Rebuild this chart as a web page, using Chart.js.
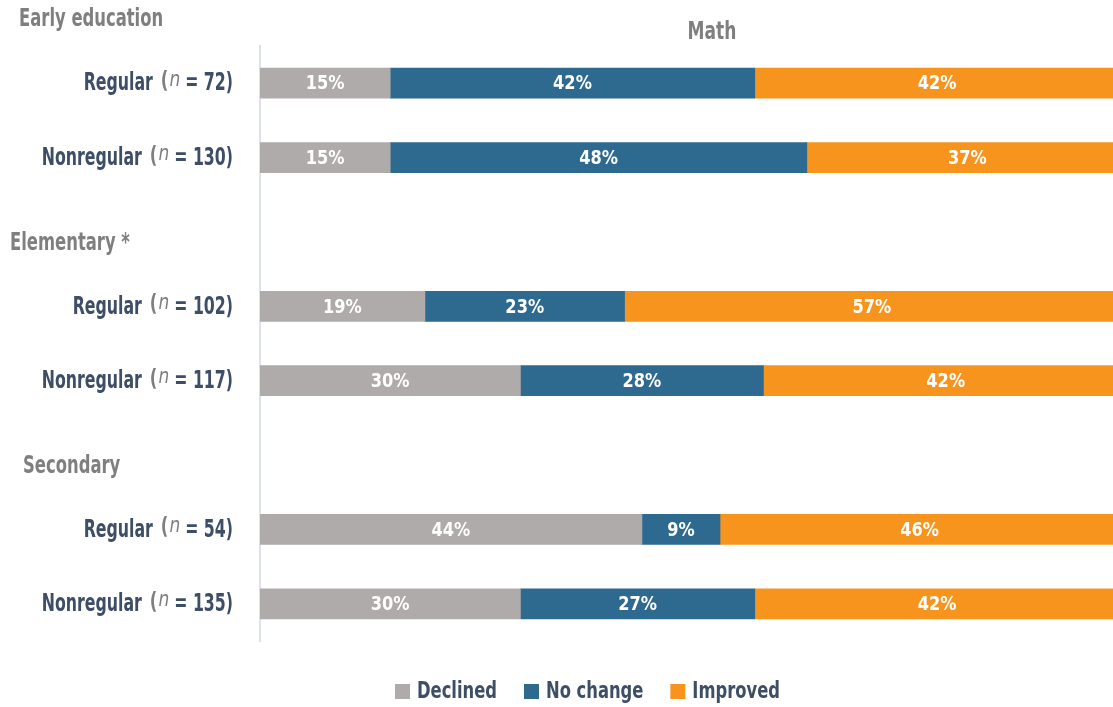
<!DOCTYPE html>
<html lang="en">
<head>
  <meta charset="UTF-8">
  <title>Math - change by program type</title>
  <script src="https://cdn.jsdelivr.net/npm/chart.js"></script>
  <style>
    html, body { margin: 0; padding: 0; overflow: hidden; background: #fff; }
    .chart-box { position: relative; width: 1128px; height: 707px; }
  </style>
</head>
<body>
  <div class="chart-box">
    <canvas id="mathChart"></canvas>
  </div>
  <script>
    // rows: empty strings are spacer rows between groups
    const categories = ['Regular', 'Nonregular', '', 'Regular', 'Nonregular', '', 'Regular', 'Nonregular'];
    const sampleSizes = [72, 130, null, 102, 117, null, 54, 135];
    const groups = ['Early education', 'Elementary *', 'Secondary'];
    const groupStart = [0, 3, 6];
    const seriesNames = ['Declined', 'No change', 'Improved'];
    const declined = [15, 15, null, 19, 30, null, 44, 30];
    const noChange = [42, 48, null, 23, 28, null, 9, 27];
    const improved = [42, 37, null, 57, 42, null, 46, 42];

    const colors = ['#aeabaa', '#2e6990', '#f7941e'];
    const dark = '#3d4e66';
    const grey = '#7f7f7f';
    const FONT = '"DejaVu Sans Condensed", "DejaVu Sans", sans-serif';

    // text squeezed horizontally so it reads like a condensed face
    function squeezed(ctx, text, x, y, sx, align) {
      const w = ctx.measureText(text).width * sx;
      let left = x;
      if (align === 'right') left = x - w;
      else if (align === 'center') left = x - w / 2;
      ctx.save();
      ctx.textAlign = 'left';
      ctx.translate(left, y);
      ctx.scale(sx, 1);
      ctx.fillText(text, 0, 0);
      ctx.restore();
      return w;
    }

    const textPlugin = {
      id: 'textPlugin',
      afterDraw(chart) {
        const ctx = chart.ctx;
        const y = chart.scales.y;
        ctx.save();
        ctx.textBaseline = 'middle';

        ctx.fillStyle = grey;
        ctx.font = 'bold 24px ' + FONT;
        squeezed(ctx, 'Math', 712, 33, 0.79, 'center');

        // group headings
        const indent = [19, 10, 23];
        groups.forEach((g, i) => {
          squeezed(ctx, g, indent[i], y.getPixelForValue(groupStart[i]) - 63, 0.76, 'left');
        });

        // row labels, drawn right to left
        categories.forEach((c, i) => {
          if (!c) return;
          const py = y.getPixelForValue(i) + 1;
          let x = 233;
          ctx.fillStyle = dark;
          ctx.font = 'bold 24px ' + FONT;
          x -= squeezed(ctx, '= ' + sampleSizes[i] + ')', x, py, 0.73, 'right') + 5;
          ctx.fillStyle = grey;
          ctx.font = 'italic 21px ' + FONT;
          x -= squeezed(ctx, 'n', x, py - 4, 0.9, 'right') + 1;
          ctx.font = 'bold 23px ' + FONT;
          x -= squeezed(ctx, '(', x, py - 2, 0.8, 'right') + 8;
          ctx.fillStyle = dark;
          ctx.font = 'bold 24px ' + FONT;
          squeezed(ctx, c, x, py, 0.73, 'right');
        });

        // percentages inside the bars
        ctx.fillStyle = '#ffffff';
        ctx.font = 'bold 20px ' + FONT;
        chart.data.datasets.forEach((ds, di) => {
          chart.getDatasetMeta(di).data.forEach((el, i) => {
            const v = ds.data[i];
            if (v == null) return;
            squeezed(ctx, v + '%', (el.x + el.base) / 2, el.y + 1, 0.9, 'center');
          });
        });

        // legend
        let lx = 395;
        const ly = 692;
        ctx.font = 'bold 23px ' + FONT;
        seriesNames.forEach((name, i) => {
          ctx.fillStyle = colors[i];
          ctx.fillRect(lx, ly - 8, 15, 15);
          ctx.fillStyle = dark;
          const w = squeezed(ctx, name, lx + 22, ly, 0.79, 'left');
          lx += 22 + w + 27;
        });

        ctx.restore();
      }
    };

    const ctx = document.getElementById('mathChart').getContext('2d');
    new Chart(ctx, {
      type: 'bar',
      data: {
        labels: categories,
        datasets: [
          { label: seriesNames[0], data: declined, backgroundColor: colors[0] },
          { label: seriesNames[1], data: noChange, backgroundColor: colors[1] },
          { label: seriesNames[2], data: improved, backgroundColor: colors[2] }
        ]
      },
      options: {
        indexAxis: 'y',
        responsive: true,
        maintainAspectRatio: false,
        animation: false,
        barThickness: 30,
        layout: { padding: { top: 46, bottom: 66, left: 0, right: 0 } },
        plugins: {
          legend: { display: false },
          tooltip: { enabled: false }
        },
        scales: {
          x: { stacked: true, min: 0, max: 100, display: false },
          y: {
            stacked: true,
            ticks: { display: false },
            grid: { display: false },
            border: { display: true, color: '#dde2e8', width: 2 },
            afterFit(scale) { scale.width = 260; }
          }
        }
      },
      plugins: [textPlugin]
    });
  </script>
</body>
</html>
